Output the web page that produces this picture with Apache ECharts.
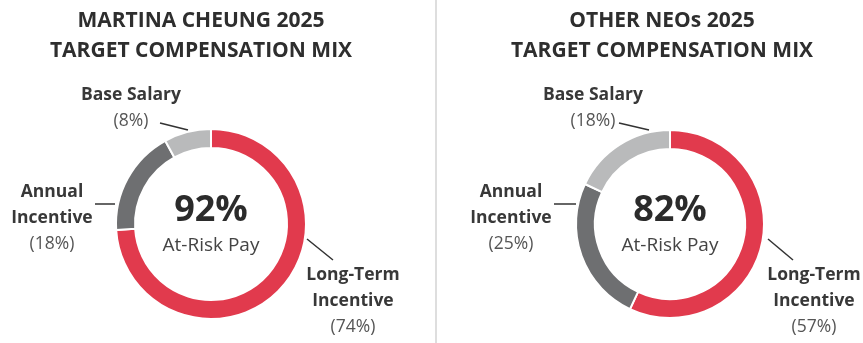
<!DOCTYPE html>
<html>
<head>
<meta charset="utf-8">
<script src="https://cdn.jsdelivr.net/npm/echarts@6/dist/echarts.min.js"></script>
<style>
  html, body { margin: 0; padding: 0; background: #fff; }
  #chart { width: 863px; height: 343px; }
</style>
</head>
<body>
<div id="chart"></div>
<script>
// Compensation components, drawn clockwise from 12 o'clock
const categories = ['Long-Term Incentive', 'Annual Incentive', 'Base Salary'];
const ceoMix = [74, 18, 8];
const neoMix = [57, 25, 18];
const panelTitles = [
  'MARTINA CHEUNG 2025\nTARGET COMPENSATION MIX',
  'OTHER NEOs 2025\nTARGET COMPENSATION MIX'
];
const centerCaption = 'At-Risk Pay';

const colors = ['#e13a4d', '#6e6f71', '#b9babb'];
const FONT = '"Open Sans", Lato, sans-serif';

// Panel geometry
const panels = [
  { cx: 211, cy: 224, r0: 76, r1: 95, titleX: 201, data: ceoMix },
  { cx: 670, cy: 224, r0: 75, r1: 94, titleX: 662, data: neoMix }
];

// Label anchor (text centre x, top y) and leader line, per panel & slice
const labelSpots = [
  [
    { x: 353, y: 262, line: [[307, 239], [333, 260]] },
    { x: 52, y: 179, line: [[95, 204], [115, 204]] },
    { x: 131, y: 82, line: [[160, 123], [188, 130]] }
  ],
  [
    { x: 814, y: 262, line: [[768, 239], [793, 260]] },
    { x: 511, y: 179, line: [[554, 204], [576, 204]] },
    { x: 593, y: 82, line: [[619, 123], [649, 130]] }
  ]
];

function labelText(params) {
  const name = params.name.replace(' Incentive', '\nIncentive');
  return '{n|' + name + '}\n{p|(' + params.value + '%)}';
}

const series = panels.map((p, si) => ({
  type: 'pie',
  center: [p.cx, p.cy],
  radius: [p.r0, p.r1],
  startAngle: 90,
  clockwise: true,
  avoidLabelOverlap: false,
  silent: true,
  itemStyle: { borderColor: '#fff', borderWidth: 2 },
  label: {
    show: true,
    position: 'outside',
    formatter: labelText,
    rich: {
      n: { fontFamily: FONT, fontWeight: 'bold', fontSize: 17.5, color: '#383838', lineHeight: 26, align: 'center' },
      p: { fontFamily: FONT, fontSize: 17.5, color: '#555', lineHeight: 26, align: 'center' }
    }
  },
  labelLine: { show: true, lineStyle: { color: '#333', width: 1.5 } },
  labelLayout: function (params) {
    const spot = labelSpots[si][params.dataIndex];
    const a = spot.line[0], b = spot.line[1];
    return {
      x: spot.x,
      y: spot.y,
      align: 'center',
      verticalAlign: 'top',
      labelLinePoints: [a, [(a[0] + b[0]) / 2, (a[1] + b[1]) / 2], b]
    };
  },
  data: categories.map((c, i) => ({ name: c, value: p.data[i], itemStyle: { color: colors[i] } }))
}));

const graphics = [
  { type: 'line', shape: { x1: 436, y1: 0, x2: 436, y2: 343 }, style: { stroke: '#dedede', lineWidth: 2 } }
];
panels.forEach((p, i) => {
  graphics.push({
    type: 'text', x: p.titleX, y: 36,
    style: {
      text: panelTitles[i], align: 'center', verticalAlign: 'middle',
      font: 'bold 21px ' + FONT, fill: '#2e2e2e', lineHeight: 30
    }
  });
  // At-risk share = everything except base salary
  const atRisk = p.data[0] + p.data[1];
  graphics.push({
    type: 'text', x: p.cx, y: p.cy - 13,
    style: { text: atRisk + '%', align: 'center', verticalAlign: 'middle', font: 'bold 36px ' + FONT, fill: '#2b2b2b' }
  });
  graphics.push({
    type: 'text', x: p.cx, y: p.cy + 22,
    style: { text: centerCaption, align: 'center', verticalAlign: 'middle', font: '19px ' + FONT, fill: '#444' }
  });
});

const chart = echarts.init(document.getElementById('chart'), null, { renderer: 'canvas' });
chart.setOption({
  animation: false,
  series: series,
  graphic: graphics
});
</script>
</body>
</html>
